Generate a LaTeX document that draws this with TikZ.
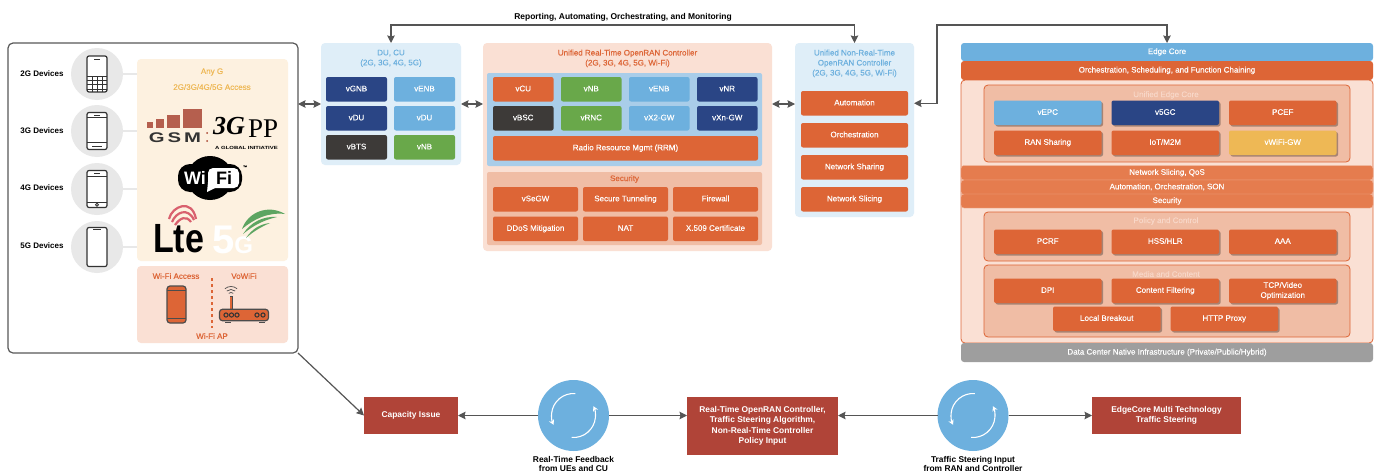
\documentclass[tikz,border=0pt]{standalone}
\usepackage{fontspec}
\setmainfont{Liberation Sans}[UprightFeatures={FakeBold=0.25}]
\newfontfamily\logoserif{Liberation Serif}
\usetikzlibrary{arrows.meta}
\usetikzlibrary{calc}
\usetikzlibrary{positioning}
\usetikzlibrary{shadows}
\definecolor{navyb}{HTML}{2A4585}
\definecolor{skyb}{HTML}{6DB0DE}
\definecolor{coal}{HTML}{3D3A38}
\definecolor{leaf}{HTML}{69A84A}
\definecolor{rust}{HTML}{DD6536}
\definecolor{band}{HTML}{E57C4E}
\definecolor{amber}{HTML}{EEB855}
\definecolor{brick}{HTML}{B04438}
\definecolor{iceb}{HTML}{DFEEF8}
\definecolor{midb}{HTML}{A9CDE9}
\definecolor{blush}{HTML}{FAE0D4}
\definecolor{salmon}{HTML}{F0BDA5}
\definecolor{cream}{HTML}{FDF1E0}
\definecolor{wire}{HTML}{555555}
\definecolor{gsmred}{HTML}{A8432F}
\definecolor{swoosh}{HTML}{5DA562}
\definecolor{ltepink}{HTML}{D9606E}
\tikzset{
	>={Stealth[length=7.5pt, width=7.5pt, inset=1pt]},
	panel/.style={
		rectangle,
		rounded corners=4pt,
		anchor=north west,
		inner sep=0pt, outer sep=0pt},
	cell/.style={
		rectangle,
		rounded corners=2pt,
		text=white,
		text centered,
		text height=5.8pt, text depth=1.7pt,
		inner sep=0pt, outer sep=0pt,
		minimum height=24.5pt},
	ducell/.style={cell, minimum width=61pt},
	rtcell/.style={cell, minimum width=60.5pt},
	seccell/.style={cell, minimum width=85pt},
	nrtcell/.style={cell, fill=rust, minimum width=107pt},
	edgecell/.style={
		cell,
		fill=rust,
		minimum width=107.5pt,
		drop shadow={shadow xshift=1.5pt, shadow yshift=-1.5pt, opacity=.3, fill=black}},
	strip/.style={
		cell,
		anchor=north west,
		minimum width=412pt,
		rounded corners=3pt},
	subframe/.style={panel, fill=salmon, draw=rust, line width=.8pt, minimum width=366pt},
	head/.style={text centered, inner sep=0pt, align=center},
	linkline/.style={draw=wire, line width=1.2pt},
	devlabel/.style={font=\fontsize{8}{10}\selectfont\bfseries, inner sep=0pt},
	devdisc/.style={circle, fill=black!9, minimum size=52pt, inner sep=0pt, outer sep=0pt},
	phone/.style={rectangle, draw=black!80, fill=white, line width=1.2pt, rounded corners=2pt,
		minimum width=20pt, inner sep=0pt, outer sep=0pt},
	flowbox/.style={rectangle, fill=brick, text=white, align=center, inner sep=0pt, outer sep=0pt,
		font=\fontsize{8.4}{10.5}\selectfont\bfseries},
	flowdisc/.style={circle, fill=skyb, minimum size=71pt, inner sep=0pt, outer sep=0pt},
	flowtext/.style={align=center, inner sep=0pt, font=\fontsize{8.4}{9.5}\selectfont\bfseries},
	spin/.style={draw=white, line width=1.1pt, -{Stealth[length=5pt, width=5.5pt]}},
}
\begin{document}
\begin{tikzpicture}
	[x=1pt, y=-1pt, font=\fontsize{8}{10}\selectfont]
	\path[use as bounding box, fill=white] (0,0) rectangle (1381,471);

	% devices
	\node[panel, draw=black!65, line width=1.2pt, rounded corners=5pt, minimum width=290pt, minimum height=310pt] (devices) at (8,43) {};
	\node[panel, fill=cream, minimum width=151pt, minimum height=202pt] (anyg) at (137,59) {};
	\node[panel, fill=blush, minimum width=151pt, minimum height=77pt] (wifiap) at (137,266) {};
	\node[devdisc] (disca) at (97,74) {};
	\node[devdisc] (discb) at (97,131) {};
	\node[devdisc] (discc) at (97,189) {};
	\node[devdisc] (discd) at (97,247) {};
	\foreach \d in {disca,discb,discc,discd}
		\draw[black!9, line width=1.5pt] (\d.east) -- (\d.east -| anyg.west);
	\node[devlabel] (laba) at (42,74) {2G Devices};
	\node[devlabel] (labb) at (42,131) {3G Devices};
	\node[devlabel] (labc) at (42,188) {4G Devices};
	\node[devlabel] (labd) at (42,246) {5G Devices};

	\node[phone, minimum height=36pt] (phonea) at (disca) {};
	\draw[black!80, line width=1pt] ($(phonea.north)+(-3,3)$) -- ++(6,0);
	\foreach \r in {0,1,2,3}
		\draw[black!80, line width=.8pt] ($(phonea.south west)+(0,-3-\r*4.2)$) -- ++(20,0);
	\foreach \c in {5,10,15}
		\draw[black!80, line width=.8pt] ($(phonea.south west)+(\c,0)$) -- ++(0,-15.6);
	\node[phone, minimum height=37pt] (phoneb) at (discb) {};
	\draw[black!80, line width=.8pt] ($(phoneb.north west)+(0,5)$) -- ++(20,0) ($(phoneb.south west)+(0,-7)$) -- ++(20,0);
	\draw[black!80, line width=1pt] ($(phoneb.north)+(-3,2.5)$) -- ++(6,0) ($(phoneb.south)+(-5,-3.5)$) -- ++(10,0);
	\node[phone, minimum height=37pt] (phonec) at (discc) {};
	\draw[black!80, line width=.8pt] ($(phonec.north west)+(0,6)$) -- ++(20,0) ($(phonec.south west)+(0,-5.5)$) -- ++(20,0);
	\draw[black!80, line width=1pt] ($(phonec.north)+(-3,3)$) -- ++(6,0);
	\draw[black!80, line width=.8pt] ($(phonec.south)+(0,-2.8)$) circle (1.5pt);
	\node[phone, minimum height=39pt] (phoned) at (discd) {};
	\draw[black!80, line width=1pt] ($(phoned.north)+(-4,1.5)$) -- ++(8,0);

	\node[head, text=amber] (anyname) at (212,72) {Any G};
	\node[head, text=amber] (anyaccess) at (212,87) {2G/3G/4G/5G Access};

	% gsm
	\fill[gsmred!85!white] (147,122) rectangle (153,128);
	\fill[gsmred!85!white] (156,119) rectangle (164,128);
	\fill[gsmred!85!white] (167,115) rectangle (180,128);
	\fill[gsmred!85!white] (183,109) rectangle (202,128);
	\node[inner sep=0pt, xscale=1.45, transform shape, font=\fontsize{14}{14}\selectfont\bfseries, text=black!80] (gsmname) at (175,138) {G\hspace{2pt}S\hspace{2pt}M};
	\fill[gsmred] (207,133) circle (1pt) (207,141) circle (1pt);
	% 3gpp
	\node[anchor=base west, inner sep=0pt, font=\logoserif\fontsize{26}{26}\selectfont\bfseries\itshape] (threeg) at (213,134) {3G};
	\node[anchor=base west, inner sep=0pt, font=\logoserif\fontsize{27}{27}\selectfont] (pp) at (248,137) {PP};
	\node[inner sep=0pt, xscale=1.32, transform shape, font=\fontsize{4.5}{5}\selectfont\bfseries] (initiative) at (246.5,148) {A GLOBAL INITIATIVE};
	% wifi
	\fill[black, rounded corners=12pt] (178,164) rectangle (242,192);
	\fill[black] (210,178) ellipse (23 and 22);
	\fill[white, rounded corners=5pt] (208,168) rectangle (239,188);
	\fill[white] (208,182) -- (207,192) -- (215,188) -- cycle;
	\node[inner sep=0pt, text=white, font=\fontsize{18}{18}\selectfont\bfseries] (wilabel) at (195,178) {Wi};
	\node[inner sep=0pt, text=black, font=\fontsize{18}{18}\selectfont\bfseries] (filabel) at (224,178) {Fi};
	\node[inner sep=0pt, font=\fontsize{4}{4}\selectfont] (tmlabel) at (245,167) {™};
	% lte
	\draw[ltepink, line width=2.2pt] (169,219) .. controls (172,206) and (192,198) .. (196,219);
	\draw[ltepink, line width=2.2pt] (172,222) .. controls (176,212) and (188,207) .. (194,220);
	\draw[ltepink, line width=2.2pt] (175,225) .. controls (180,218) and (186,215) .. (191,222);
	\node[anchor=base west, inner sep=0pt, yscale=1.2, transform shape, font=\fontsize{34}{34}\selectfont\bfseries] (lte) at (153,252) {Lte};
	% 5g
	\node[anchor=base west, inner sep=0pt, text=white, font=\fontsize{40}{40}\selectfont\bfseries] (fiveg) at (212,253) {5{\fontsize{24}{24}\selectfont G}};
	\fill[swoosh] (242,229) .. controls (248,212) and (268,204) .. (285,214) .. controls (268,212) and (254,219) .. (242,229);
	\fill[swoosh] (243,234) .. controls (251,222) and (263,216) .. (277,217) .. controls (264,220) and (254,225) .. (243,234);
	\fill[swoosh] (246,238) .. controls (252,229) and (260,224) .. (270,223) .. controls (261,227) and (254,231) .. (246,238);

	% wifi ap
	\node[head, text=rust] (wifiaccess) at (176,276) {Wi-Fi Access};
	\node[head, text=rust] (vowifi) at (244,276) {VoWiFi};
	\node[head, text=rust] (aplabel) at (212,336) {Wi-Fi AP};
	\draw[rust, line width=1.1pt, dashed] (212,278) -- (212,328);
	\node[phone, fill=rust, draw=black!70, rounded corners=3pt, minimum width=19pt, minimum height=37pt] (apphone) at (176.5,304.5) {};
	\draw[black!70, line width=.7pt] ($(apphone.north west)+(0,4)$) -- ++(19,0) ($(apphone.south west)+(0,-5)$) -- ++(19,0);
	\draw[black!70, line width=1pt] (225,322) -- (231,322) (259,322) -- (265,322);
	\draw[black!70, line width=3pt] (231,309) -- (231,296);
	\draw[rust, line width=1.4pt] (231,309) -- (231,297);
	\node[rectangle, rounded corners=3pt, draw=black!70, fill=rust, line width=1.2pt, minimum width=49pt, minimum height=11.5pt, inner sep=0pt] (router) at (244,315) {};
	\foreach \x in {226,231.5,237,257,263}
		\draw[black!80, line width=1pt] (\x,315) circle (2.1pt);
	\foreach \rr in {3.5,6.5,9.5}
		\draw[black!70, line width=.7pt] (231,296) ++(50:\rr pt) arc (50:130:\rr pt);

	% du cu
	\node[panel, fill=iceb, minimum width=140pt, minimum height=122pt] (du) at (321,43) {};
	\node[head, text=skyb, below=6.5pt of du.north] (dutitle) {DU, CU\\(2G, 3G, 4G, 5G)};
	\node[ducell, fill=navyb, anchor=north west] (vgnb) at (326,77) {vGNB};
	\node[ducell, fill=skyb, right=7pt of vgnb] (venba) {vENB};
	\node[ducell, fill=navyb, below=4.5pt of vgnb] (vdua) {vDU};
	\node[ducell, fill=skyb, right=7pt of vdua] (vdub) {vDU};
	\node[ducell, fill=coal, below=4.5pt of vdua] (vbts) {vBTS};
	\node[ducell, fill=leaf, right=7pt of vbts] (vnba) {vNB};

	% real time controller
	\node[panel, fill=blush, minimum width=289pt, minimum height=208pt] (rt) at (483,43) {};
	\node[head, text=rust, below=6.5pt of rt.north] (rttitle) {Unified Real-Time OpenRAN Controller\\(2G, 3G, 4G, 5G, Wi-Fi)};
	\node[panel, fill=midb, rounded corners=2pt, minimum width=275pt, minimum height=93pt] (rtinner) at (487,73) {};
	\node[rtcell, fill=rust, anchor=north west] (vcu) at (493,77) {vCU};
	\node[rtcell, fill=leaf, right=7.5pt of vcu] (vnbb) {vNB};
	\node[rtcell, fill=skyb, right=7.5pt of vnbb] (venbb) {vENB};
	\node[rtcell, fill=navyb, right=7.5pt of venbb] (vnr) {vNR};
	\node[rtcell, fill=coal, below=4.5pt of vcu] (vbsc) {vBSC};
	\node[rtcell, fill=leaf, right=7.5pt of vbsc] (vrnc) {vRNC};
	\node[rtcell, fill=skyb, right=7.5pt of vrnc] (vxtwo) {vX2-GW};
	\node[rtcell, fill=navyb, right=7.5pt of vxtwo] (vxn) {vXn-GW};
	\node[cell, fill=rust, anchor=north west, minimum width=265pt] (rrm) at (493,136) {Radio Resource Mgmt (RRM)};
	\node[panel, fill=salmon, rounded corners=2pt, minimum width=275pt, minimum height=73pt] (sec) at (487,172) {};
	\node[head, text=rust] (sectitle) at (624.5,179) {Security};
	\node[seccell, fill=rust, anchor=north west] (vsegw) at (493,187) {vSeGW};
	\node[seccell, fill=rust, right=5pt of vsegw] (tunnel) {Secure Tunneling};
	\node[seccell, fill=rust, right=5pt of tunnel] (firewall) {Firewall};
	\node[seccell, fill=rust, below=5pt of vsegw] (ddos) {DDoS Mitigation};
	\node[seccell, fill=rust, right=5pt of ddos] (nat) {NAT};
	\node[seccell, fill=rust, right=5pt of nat] (xcert) {X.509 Certificate};

	% non real time controller
	\node[panel, fill=iceb, minimum width=119pt, minimum height=174pt] (nrt) at (795,43) {};
	\node[head, text=skyb, below=6.5pt of nrt.north] (nrttitle) {Unified Non-Real-Time\\OpenRAN Controller\\(2G, 3G, 4G, 5G, Wi-Fi)};
	\node[nrtcell, anchor=north west] (automation) at (801,91) {Automation};
	\node[nrtcell, below=7.5pt of automation] (orchestration) {Orchestration};
	\node[nrtcell, below=7.5pt of orchestration] (sharing) {Network Sharing};
	\node[nrtcell, below=7.5pt of sharing] (slicing) {Network Slicing};

	% edge core
	\node[strip, fill=skyb, minimum height=18pt] (edgecore) at (961,43) {Edge Core};
	\node[strip, fill=rust, minimum height=19pt] (chaining) at (961,61) {Orchestration, Scheduling, and Function Chaining};
	\node[panel, fill=blush, draw=rust, line width=.8pt, minimum width=412pt, minimum height=263pt] (edgebody) at (961,80) {};
	\node[strip, fill=black!38, minimum height=19pt] (native) at (961,343) {Data Center Native Infrastructure (Private/Public/Hybrid)};
	\node[subframe, minimum height=77pt] (unified) at (984,85) {};
	\node[head, text=blush!75!salmon] (unifiedtitle) at (1166,95) {Unified Edge Core};
	\node[edgecell, fill=skyb, anchor=north west] (vepc) at (994,100.5) {vEPC};
	\node[edgecell, fill=navyb, right=10pt of vepc] (vfivegc) {v5GC};
	\node[edgecell, right=10pt of vfivegc] (pcef) {PCEF};
	\node[edgecell, below=5.5pt of vepc] (ransharing) {RAN Sharing};
	\node[edgecell, right=10pt of ransharing] (iot) {IoT/M2M};
	\node[edgecell, fill=amber, right=10pt of iot] (vwifi) {vWiFi-GW};
	\node[strip, fill=band, draw=blush!50!band, line width=.4pt, minimum height=14.5pt] (qos) at (961,165.5) {Network Slicing, QoS};
	\node[strip, fill=band, draw=blush!50!band, line width=.4pt, minimum height=14.5pt] (son) at (961,180) {Automation, Orchestration, SON};
	\node[strip, fill=band, draw=blush!50!band, line width=.4pt, minimum height=14pt] (edgesec) at (961,194) {Security};
	\node[subframe, minimum height=49pt] (policy) at (984,212) {};
	\node[head, text=blush!75!salmon] (policytitle) at (1166,221) {Policy and Control};
	\node[edgecell, anchor=north west] (pcrf) at (994,229.5) {PCRF};
	\node[edgecell, right=10pt of pcrf] (hss) {HSS/HLR};
	\node[edgecell, right=10pt of hss] (aaa) {AAA};
	\node[subframe, minimum height=72pt] (media) at (984,265) {};
	\node[head, text=blush!75!salmon] (mediatitle) at (1166,274) {Media and Content};
	\node[edgecell, anchor=north west] (dpi) at (994,278.5) {DPI};
	\node[edgecell, right=10pt of dpi] (filtering) {Content Filtering};
	\node[edgecell, align=center, text height=, text depth=, right=10pt of filtering] (tcpvideo) {TCP/Video\\Optimization};
	\node[edgecell, anchor=north west] (breakout) at (1053,306.5) {Local Breakout};
	\node[edgecell, right=10pt of breakout] (proxy) {HTTP Proxy};

	% connectors
	\coordinate (turn) at (937,25);
	\node[inner sep=0pt, font=\fontsize{8.45}{10}\selectfont\bfseries] (reporting) at (623,17) {Reporting, Automating, Orchestrating, and Monitoring};
	\draw[linkline, <->] (du.north) -- ++(0,-18) -| (nrt.north);
	\draw[linkline, <->] (edgecore.north) |- (turn) |- (automation.east -| nrt.east);
	\draw[linkline, <->] (devices.east |- du.west) -- (du.west);
	\draw[linkline, <->] (du.east) -- (du.east -| rt.west);
	\draw[linkline, <->] (rt.east |- du.east) -- (nrt.west |- du.east);

	% flow
	\node[flowbox, minimum width=94pt, minimum height=37pt] (capacity) at (411,415.5) {Capacity Issue};
	\node[flowdisc] (feedback) at (573.5,415.5) {};
	\node[flowbox, minimum width=151pt, minimum height=58pt] (controller) at (762.5,426) {Real-Time OpenRAN Controller,\\Traffic Steering Algorithm,\\Non-Real-Time Controller\\Policy Input};
	\node[flowdisc] (steering) at (973,415.5) {};
	\node[flowbox, minimum width=149pt, minimum height=37pt] (edgeflow) at (1166.5,415.5) {EdgeCore Multi Technology\\Traffic Steering};
	\node[flowtext, below=5pt of feedback] (feedbacktext) {Real-Time Feedback\\from UEs and CU};
	\node[flowtext, below=5pt of steering] (steeringtext) {Traffic Steering Input\\from RAN and Controller};
	\foreach \d in {feedback,steering} {
		\draw[spin] (\d) ++(85:22pt) arc (85:205:22pt);
		\draw[spin] (\d) ++(265:22pt) arc (265:385:22pt);
	}
	\draw[linkline, ->] (feedback.west) -- (capacity.east);
	\draw[linkline, ->] (feedback.east) -- (controller.west |- feedback.east);
	\draw[linkline, ->] (steering.west) -- (controller.east |- steering.west);
	\draw[linkline, ->] (steering.east) -- (edgeflow.west);
	\draw[linkline, ->] (devices.south east) -- (capacity.west);
\end{tikzpicture}
\end{document}
